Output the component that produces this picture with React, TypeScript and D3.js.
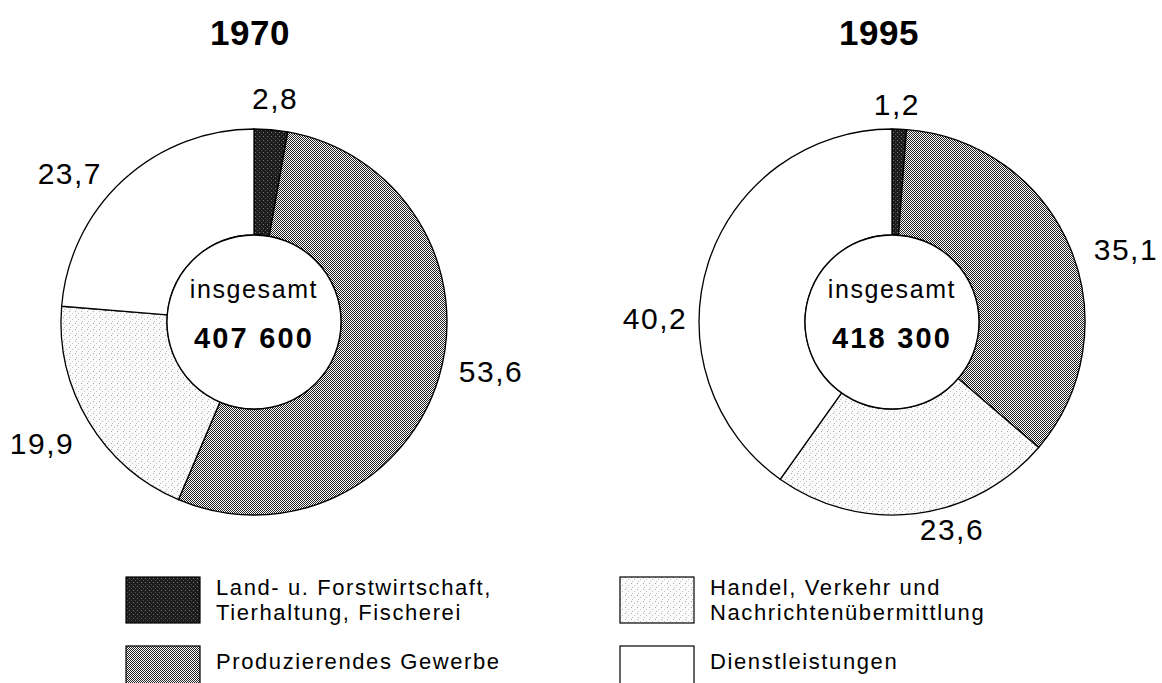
import * as d3 from "d3"

// ---- data ----
const years = ["1970", "1995"]
const totals = ["407 600", "418 300"]
const shares1970 = [2.8, 53.6, 19.9, 23.7]
const shares1995 = [1.2, 35.1, 23.6, 40.2]
const legendLines = [
  ["Land- u. Forstwirtschaft,", "Tierhaltung, Fischerei"],
  ["Produzierendes Gewerbe"],
  ["Handel, Verkehr und", "Nachrichtenübermittlung"],
  ["Dienstleistungen"],
]

// ---- layout ----
const W = 1162
const H = 683
const OUTER = 193
const INNER = 87
const centers = [
  { cx: 254, cy: 322, titleX: 250 },
  { cx: 892, cy: 322, titleX: 879 },
]
// label placement: angle (deg, clockwise from top) and distance from centre
const labelPlacement = [
  [
    { a: 5.4, r: 225 },
    { a: 101.7, r: 242 },
    { a: 240.3, r: 244 },
    { a: 309, r: 237 },
  ],
  [
    { a: 1.3, r: 218 },
    { a: 72.7, r: 245 },
    { a: 163.9, r: 216 },
    { a: 271, r: 237 },
  ],
]
const fills = ["url(#pDark)", "url(#pMid)", "url(#pLight)", "#ffffff"]
const FONT = "'Liberation Sans', Arial, Helvetica, sans-serif"
const fmt = (v: number) => d3.format(".1f")(v).replace(".", ",")

function Donut({ idx, shares }: { idx: number; shares: number[] }) {
  const { cx, cy, titleX } = centers[idx]
  const pie = d3
    .pie<number>()
    .value((d) => d)
    .sort(null)
  const arc = d3.arc<d3.PieArcDatum<number>>().innerRadius(INNER).outerRadius(OUTER)
  const arcs = pie(shares)

  return (
    <g>
      <text
        x={titleX}
        y={45}
        textAnchor="middle"
        fontFamily={FONT}
        fontWeight="bold"
        fontSize={35}
        letterSpacing={0.5}
      >
        {years[idx]}
      </text>
      <g transform={`translate(${cx},${cy})`}>
        {arcs.map((d, i) => (
          <path key={i} d={arc(d) || ""} fill={fills[i]} stroke="#000" strokeWidth={1.3} />
        ))}
        <circle r={INNER} fill="#fff" stroke="#000" strokeWidth={1.3} />
        <text
          y={-24}
          textAnchor="middle"
          fontFamily={FONT}
          fontSize={25}
          letterSpacing={1.6}
        >
          insgesamt
        </text>
        <text
          y={26}
          textAnchor="middle"
          fontFamily={FONT}
          fontWeight="bold"
          fontSize={29}
          letterSpacing={2.2}
        >
          {totals[idx]}
        </text>
        {arcs.map((d, i) => {
          const p = labelPlacement[idx][i]
          const rad = (p.a * Math.PI) / 180
          return (
            <text
              key={"l" + i}
              x={p.r * Math.sin(rad)}
              y={-p.r * Math.cos(rad)}
              dy="0.36em"
              textAnchor="middle"
              fontFamily={FONT}
              fontSize={30}
              letterSpacing={1.5}
            >
              {fmt(d.data)}
            </text>
          )
        })}
      </g>
    </g>
  )
}

function Legend() {
  const cols = [126, 620]
  const rows = [577, 646]
  return (
    <g fontFamily={FONT} fontSize={22} letterSpacing={1.6}>
      {legendLines.map((lines, i) => {
        const x = cols[Math.floor(i / 2)]
        const y = rows[i % 2]
        const textY = lines.length === 2 ? y + 18 : y + 23
        return (
          <g key={i}>
            <rect x={x} y={y} width={74} height={46} fill={fills[i]} stroke="#000" strokeWidth={1.2} />
            {lines.map((t, j) => (
              <text key={j} x={x + 90} y={textY + j * 25}>
                {t}
              </text>
            ))}
          </g>
        )
      })}
    </g>
  )
}

export default function App() {
  return (
    <svg
      width={W}
      height={H}
      style={{ position: "absolute", left: 0, top: 0, background: "#fff" }}
    >
      <defs>
        <pattern id="pDark" width={4} height={4} patternUnits="userSpaceOnUse">
          <rect width={4} height={4} fill="#1c1c1c" />
          <rect x={1} y={2} width={1} height={1} fill="#777" />
          <rect x={3} y={0} width={1} height={1} fill="#555" />
        </pattern>
        <pattern id="pMid" width={2} height={2} patternUnits="userSpaceOnUse">
          <rect width={2} height={2} fill="#fff" />
          <rect x={0} y={0} width={1} height={1} fill="#222" />
          <rect x={1} y={1} width={1} height={1} fill="#222" />
        </pattern>
        <pattern id="pLight" width={6} height={6} patternUnits="userSpaceOnUse">
          <rect width={6} height={6} fill="#fbfbfb" />
          <rect x={1} y={1} width={1} height={1} fill="#aaa" />
          <rect x={4} y={3} width={1} height={1} fill="#c4c4c4" />
          <rect x={2} y={5} width={1} height={1} fill="#bbb" />
        </pattern>
      </defs>
      <Donut idx={0} shares={shares1970} />
      <Donut idx={1} shares={shares1995} />
      <Legend />
    </svg>
  )
}
